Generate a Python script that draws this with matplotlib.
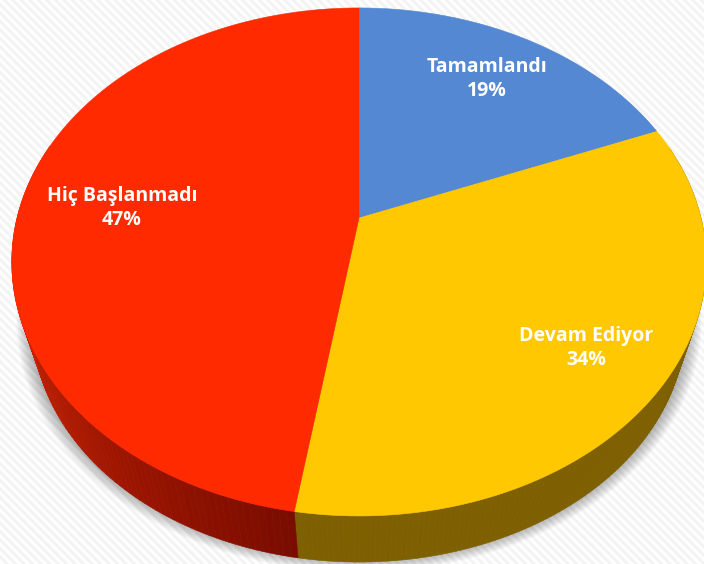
"""
Pasta 3D em perspectiva: Tamamlandi / Devam Ediyor / Hic Baslanmadi.
Saida: out.png
"""
import numpy as np
import matplotlib.pyplot as plt
from matplotlib.patches import Polygon
from matplotlib.collections import PolyCollection

categorias = ["Tamamlandı", "Devam Ediyor", "Hiç Başlanmadı"]
valores = [18.9, 33.61, 47.49]
cores = ["#5588D2", "#FFC800", "#FF2A00"]
cores_lado = ["#2F4C75", "#7F6000", "#C42000"]
pos_rotulos = [(487, 79), (586, 348), (122, 208)]

# geometria da perspectiva, em pixels
APEX = (359, 218)
K = 0.173
A = 342
B = 246.4
ESCALA_BASE = 0.94
DESCE_BASE = 64


def borda(theta, escala=1.0, desce=0.0):
    # theta em radianos, horario a partir do topo
    x, y = np.sin(theta), np.cos(theta)
    d = 1 + K * y
    return np.column_stack([APEX[0] + escala * A * x / d,
                            APEX[1] + desce - escala * B * y / d])


fig = plt.figure(figsize=(7.04, 5.64), dpi=100)
ax = fig.add_axes([0, 0, 1, 1])

# fundo listrado
yy, xx = np.mgrid[0:564, 0:704]
listras = 0.5 + 0.5 * np.cos(2 * np.pi * (xx - yy) / 8.5)
ax.imshow(listras, cmap="gray", vmin=-19, vmax=1, extent=(0, 704, 564, 0), aspect="auto", zorder=0)
ax.set_xlim(0, 704)
ax.set_ylim(564, 0)
ax.axis("off")

# sombra suave em volta da base
t_todo = np.linspace(0, 2 * np.pi, 361)
for e in np.linspace(1.05, 1.0, 16):
    ax.add_patch(Polygon(borda(t_todo, ESCALA_BASE * e, DESCE_BASE - 4), closed=True,
                         fc="black", ec="none", alpha=0.022, zorder=1))

limites = np.cumsum([0] + valores) / sum(valores) * 2 * np.pi

# lateral
quads, cores_quads = [], []
c_claro = np.array([0xD4, 0x24, 0x00]) / 255
c_escuro = np.array([0x7A, 0x0C, 0x00]) / 255
for i in range(3):
    ts = np.linspace(limites[i], limites[i + 1], 160)
    for t0, t1 in zip(ts[:-1], ts[1:]):
        if np.cos((t0 + t1) / 2) > 0.3:
            continue
        p = borda(np.array([t0, t1]))
        q = borda(np.array([t1, t0]), ESCALA_BASE, DESCE_BASE)
        quads.append(np.vstack([p, q]))
        if categorias[i] == "Hiç Başlanmadı":
            # vai clareando a partir da divisa com o amarelo
            f = np.clip((t0 - limites[i]) / np.radians(72), 0, 1)
            cores_quads.append(tuple(c_escuro * (1 - f) + c_claro * f))
        else:
            cores_quads.append(cores_lado[i])
ax.add_collection(PolyCollection(quads, facecolors=cores_quads, edgecolors=cores_quads,
                                 linewidths=0.4, zorder=2))

# topo
for i in range(3):
    ts = np.linspace(limites[i], limites[i + 1], 200)
    pts = np.vstack([[APEX], borda(ts)])
    ax.add_patch(Polygon(pts, closed=True, fc=cores[i], ec=cores[i], lw=0.4, zorder=3))

for nome, v, (x, y) in zip(categorias, valores, pos_rotulos):
    ax.text(x, y, f"{nome}\n{round(v)}%", color="white", ha="center", va="center",
            family="Open Sans", fontweight="bold", fontsize=14, linespacing=1.32, zorder=4)

fig.savefig("out.png", dpi=100)
